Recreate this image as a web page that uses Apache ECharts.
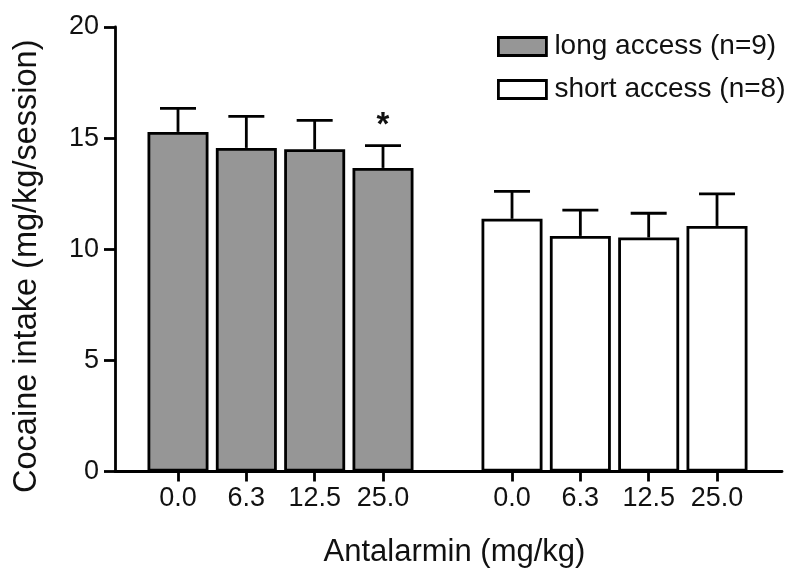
<!DOCTYPE html>
<html>
<head>
<meta charset="utf-8">
<script src="https://cdn.jsdelivr.net/npm/echarts@6/dist/echarts.min.js"></script>
<style>html,body{margin:0;padding:0;background:#fff}#c{width:800px;height:588px}</style>
</head>
<body>
<div id="c"></div>
<script>
// ---- data ----
const doseLabels = ['0.0', '6.3', '12.5', '25.0'];
const longMean  = [15.28, 14.56, 14.50, 13.66];
const longErr   = [1.06, 1.42, 1.30, 1.00];
const longSig   = [false, false, false, true];
const shortMean = [11.37, 10.60, 10.53, 11.05];
const shortErr  = [1.23, 1.16, 1.09, 1.44];
const shortSig  = [false, false, false, false];
const seriesNames = ['long access (n=9)', 'short access (n=8)'];
const yTicks = [0, 5, 10, 15, 20];

// ---- layout constants (category slot units) ----
const GROUP2_START = 4.888;
const pos1 = doseLabels.map((d, i) => i);
const pos2 = doseLabels.map((d, i) => GROUP2_START + i);
const allPos = pos1.concat(pos2);
const allLabels = doseLabels.concat(doseLabels);

const FONT = 'Liberation Sans, Arial, Helvetica, sans-serif';
const INK = '#111';

function labelFor(v) {
  for (let i = 0; i < allPos.length; i++) if (Math.abs(allPos[i] - v) < 1e-6) return allLabels[i];
  return '';
}

const errData = [];
pos1.forEach((x, i) => errData.push([x, longMean[i], longErr[i], longSig[i] ? 1 : 0]));
pos2.forEach((x, i) => errData.push([x, shortMean[i], shortErr[i], shortSig[i] ? 1 : 0]));

const chart = echarts.init(document.getElementById('c'));
chart.setOption({
  animation: false,
  backgroundColor: '#fff',
  grid: { left: 115, right: 18, top: 27, bottom: 116.5, containLabel: false },
  legend: {
    orient: 'vertical', left: 497, top: 32, padding: 0,
    itemWidth: 48, itemHeight: 18, itemGap: 14, icon: 'rect',
    textStyle: { fontFamily: FONT, fontSize: 28, color: INK, lineHeight: 29, padding: [0, 0, 0, 3] },
    data: [
      { name: seriesNames[0], itemStyle: { color: '#969696', borderColor: '#000', borderWidth: 2.8 } },
      { name: seriesNames[1], itemStyle: { color: '#fff', borderColor: '#000', borderWidth: 2.8 } }
    ]
  },
  xAxis: {
    type: 'value', min: -0.922, max: GROUP2_START + 3 + 0.951,
    name: 'Antalarmin (mg/kg)', nameLocation: 'middle', nameGap: 65,
    nameTextStyle: { fontFamily: FONT, fontSize: 31, color: INK, padding: [0, 0, 0, 12] },
    axisLine: { show: true, onZero: false, lineStyle: { color: '#000', width: 2.8 } },
    axisTick: { show: true, length: 10, customValues: allPos, lineStyle: { color: '#000', width: 2.8 } },
    axisLabel: { customValues: allPos, formatter: labelFor, fontFamily: FONT, fontSize: 27, color: INK, margin: 14 },
    splitLine: { show: false }
  },
  yAxis: {
    type: 'value', min: 0, max: 20, interval: 5,
    name: 'Cocaine intake (mg/kg/session)', nameLocation: 'middle', nameGap: 71,
    nameTextStyle: { fontFamily: FONT, fontSize: 32.5, color: INK, padding: [0, 34, 0, 0] },
    axisLine: { show: true, onZero: false, lineStyle: { color: '#000', width: 2.8 } },
    axisTick: { show: true, length: 11, lineStyle: { color: '#000', width: 2.8 } },
    axisLabel: { fontFamily: FONT, fontSize: 27, color: INK, margin: 16,
      formatter: v => (yTicks.indexOf(v) >= 0 ? String(v) : '') },
    splitLine: { show: false }
  },
  series: [
    {
      name: seriesNames[0], type: 'bar', barWidth: 61, barGap: '-100%',
      data: pos1.map((x, i) => [x, longMean[i]]),
      itemStyle: { color: '#969696', borderColor: '#000', borderWidth: 2.8 }
    },
    {
      name: seriesNames[1], type: 'bar', barWidth: 61, barGap: '-100%',
      data: pos2.map((x, i) => [x, shortMean[i]]),
      itemStyle: { color: '#fff', borderColor: '#000', borderWidth: 2.8 }
    },
    {
      name: 'err', type: 'custom', z: 5,
      encode: { x: 0, y: 1 },
      data: errData,
      renderItem: function (params, api) {
        const x = api.value(0), m = api.value(1), e = api.value(2), s = api.value(3);
        const p0 = api.coord([x, m]);
        const p1 = api.coord([x, m + e]);
        const half = 18;
        const style = { stroke: '#000', lineWidth: 2.8 };
        const children = [
          { type: 'line', shape: { x1: p0[0], y1: p0[1], x2: p1[0], y2: p1[1] }, style: style },
          { type: 'line', shape: { x1: p1[0] - half, y1: p1[1], x2: p1[0] + half, y2: p1[1] }, style: style }
        ];
        if (s) {
          children.push({ type: 'text', style: { text: '*', x: p1[0], y: p1[1] - 3,
            fontFamily: FONT, fontSize: 33, fontWeight: 'bold', fill: INK, align: 'center', verticalAlign: 'bottom' } });
        }
        return { type: 'group', children: children };
      }
    }
  ]
});
</script>
</body>
</html>
